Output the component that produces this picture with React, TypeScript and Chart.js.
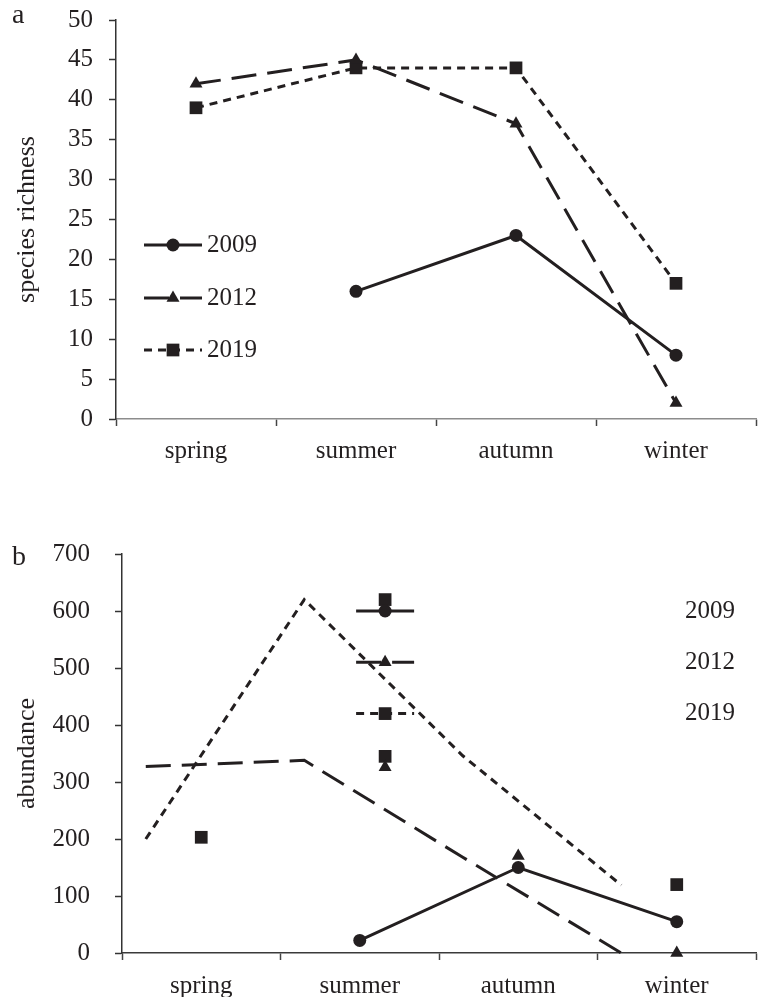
import React, { useEffect, useRef } from 'react';
import { Chart, registerables } from 'chart.js';

Chart.register(...registerables);

const FAMILY = "'Liberation Serif', 'Times New Roman', serif";
const INK = '#231f20';

// ---------- data ----------
const seasons = ['spring', 'summer', 'autumn', 'winter'];
const years = ['2009', '2012', '2019'];

// panel a: species richness
const richness2009 = [null, 16, 23, 8];
const richness2012 = [42, 45, 37, 2];
const richness2019 = [39, 44, 44, 17];
const richnessMin = 0;
const richnessMax = 50;
const richnessStep = 5;

// panel b: abundance
const abundance2009 = [null, 22, 150, 55];
const abundance2012Markers = [null, null, 170, 0];
const abundance2019Markers = [203, null, null, 120];
const abundance2012Line = [327, 338, 168, 0];
const abundance2019Line = [200, 620, 346, 119];
const abundanceSummerTriangles = [326];
const abundanceSummerSquares = [620, 345];
const abundanceLegendValues = [600, 510, 420];
const abundanceMin = 0;
const abundanceMax = 700;
const abundanceStep = 100;

// position shifts (in category units) seen in panel b
const LINE_SHIFT = -0.35;
const MARKER_SHIFT = 0.16;
const SUMMER = 1;

// ---------- styles ----------
const DASH_2012 = [25, 11];
const DASH_2019 = [8, 6];
const RADII: Record<string, number> = { circle: 6.5, triangle: 7.5, rect: 9 };
const legendStyles = [
  { style: 'circle', dash: [] as number[] },
  { style: 'triangle', dash: DASH_2012 },
  { style: 'rect', dash: DASH_2019 },
];

const toPoints = (values: (number | null)[], shift = 0) =>
  values.map((v, i) => ({ x: i + shift, y: v }));

function series(data: any[], style: string | null, dash: number[], showLine: boolean) {
  return {
    data,
    borderColor: INK,
    backgroundColor: INK,
    borderWidth: 3,
    borderDash: dash,
    borderCapStyle: 'butt',
    showLine,
    tension: 0,
    pointStyle: style || 'circle',
    pointRadius: style ? RADII[style] : 0,
    pointHoverRadius: style ? RADII[style] : 0,
    pointBorderWidth: 0,
    pointBackgroundColor: INK,
    clip: false,
    spanGaps: false,
  };
}

function drawMarker(ctx: CanvasRenderingContext2D, style: string, x: number, y: number) {
  const r = RADII[style];
  ctx.beginPath();
  if (style === 'circle') {
    ctx.arc(x, y, r, 0, Math.PI * 2);
  } else if (style === 'triangle') {
    ctx.moveTo(x, y - r);
    ctx.lineTo(x + r * Math.sin((2 * Math.PI) / 3), y + r * 0.5);
    ctx.lineTo(x - r * Math.sin((2 * Math.PI) / 3), y + r * 0.5);
    ctx.closePath();
  } else {
    const s = r * Math.SQRT1_2;
    ctx.rect(x - s, y - s, 2 * s, 2 * s);
  }
  ctx.fill();
}

type Row = { y: number; x0: number; x1: number; mx: number; tx: number };

function annotationPlugin(letter: string, letterY: number, rows: (chart: any) => Row[]) {
  return {
    id: 'annotations',
    afterDatasetsDraw(chart: any) {
      const ctx: CanvasRenderingContext2D = chart.ctx;
      ctx.save();
      ctx.fillStyle = INK;
      ctx.strokeStyle = INK;
      ctx.font = `28px ${FAMILY}`;
      ctx.textAlign = 'left';
      ctx.textBaseline = 'alphabetic';
      ctx.fillText(letter, 12, letterY);

      rows(chart).forEach((row, i) => {
        const st = legendStyles[i];
        ctx.lineWidth = 3;
        ctx.lineCap = 'butt';
        ctx.setLineDash(st.dash);
        ctx.beginPath();
        ctx.moveTo(row.x0, row.y);
        ctx.lineTo(row.x1, row.y);
        ctx.stroke();
        ctx.setLineDash([]);
        drawMarker(ctx, st.style, row.mx, row.y);
        ctx.font = `25px ${FAMILY}`;
        ctx.textBaseline = 'middle';
        ctx.fillText(years[i], row.tx, row.y);
      });
      ctx.restore();
    },
  };
}

function xScale(height: number, borderColor: string, padding: number) {
  return {
    type: 'linear',
    min: -0.5,
    max: 3.5,
    afterFit: (s: any) => {
      s.height = height;
      s.paddingLeft = 0;
      s.paddingRight = 0;
    },
    ticks: {
      stepSize: 0.5,
      autoSkip: false,
      maxRotation: 0,
      minRotation: 0,
      padding,
      color: INK,
      font: { family: FAMILY, size: 25 },
      callback: (v: number) =>
        Number.isInteger(v) && v >= 0 && v < seasons.length ? seasons[v] : '',
    },
    grid: {
      drawOnChartArea: false,
      drawTicks: true,
      tickLength: 7,
      tickWidth: 1.5,
      tickColor: (c: any) =>
        c.tick && Number.isInteger(c.tick.value) ? 'rgba(0,0,0,0)' : '#444',
    },
    border: { display: true, color: borderColor, width: 1.5 },
  };
}

function yScale(width: number, min: number, max: number, step: number, title: string, padding: number) {
  return {
    type: 'linear',
    min,
    max,
    afterFit: (s: any) => {
      s.width = width;
      s.paddingTop = 0;
      s.paddingBottom = 0;
    },
    ticks: {
      stepSize: step,
      padding,
      color: INK,
      font: { family: FAMILY, size: 25 },
    },
    grid: {
      drawOnChartArea: false,
      drawTicks: true,
      tickLength: 7,
      tickWidth: 1.5,
      tickColor: '#333',
    },
    border: { display: true, color: '#333', width: 1.5 },
    title: {
      display: true,
      text: title,
      color: INK,
      font: { family: FAMILY, size: 26 },
      padding: { top: 12, bottom: 0 },
    },
  };
}

function configA() {
  return {
    type: 'line',
    data: {
      datasets: [
        series(toPoints(richness2009), 'circle', [], true),
        series(toPoints(richness2012), 'triangle', DASH_2012, true),
        series(toPoints(richness2019), 'rect', DASH_2019, true),
      ],
    },
    options: {
      responsive: false,
      animation: false,
      events: [],
      layout: { padding: { top: 20, right: 3, left: 0, bottom: 0 } },
      scales: {
        x: xScale(61, '#8c8c8c', 10),
        y: yScale(116, richnessMin, richnessMax, richnessStep, 'species richness', 16),
      },
      plugins: { legend: { display: false }, tooltip: { enabled: false } },
    },
    plugins: [
      annotationPlugin('a', 23, () =>
        [245, 298, 350].map((y) => ({ y, x0: 144, x1: 202, mx: 173, tx: 207 }))
      ),
    ],
  };
}

function configB() {
  const col = SUMMER + MARKER_SHIFT;
  return {
    type: 'line',
    data: {
      datasets: [
        series(toPoints(abundance2009), 'circle', [], true),
        series(toPoints(abundance2012Markers), 'triangle', [], false),
        series(toPoints(abundance2019Markers), 'rect', [], false),
        series(abundanceSummerTriangles.map((y) => ({ x: col, y })), 'triangle', [], false),
        series(abundanceSummerSquares.map((y) => ({ x: col, y })), 'rect', [], false),
        series(toPoints(abundance2012Line, LINE_SHIFT), null, DASH_2012, true),
        series(toPoints(abundance2019Line, LINE_SHIFT), null, DASH_2019, true),
      ],
    },
    options: {
      responsive: false,
      animation: false,
      events: [],
      layout: { padding: { top: 74, right: 3, left: 0, bottom: 0 } },
      scales: {
        x: xScale(44, '#3a3a3a', 11),
        y: yScale(122, abundanceMin, abundanceMax, abundanceStep, 'abundance', 25),
      },
      plugins: { legend: { display: false }, tooltip: { enabled: false } },
    },
    plugins: [
      annotationPlugin('b', 85, (chart: any) => {
        const mx = chart.scales.x.getPixelForValue(col);
        return abundanceLegendValues.map((v) => ({
          y: chart.scales.y.getPixelForValue(v),
          x0: mx - 29,
          x1: mx + 29,
          mx,
          tx: 685,
        }));
      }),
    ],
  };
}

function ChartCanvas({ top, width, height, make }: { top: number; width: number; height: number; make: () => any }) {
  const ref = useRef<HTMLCanvasElement | null>(null);
  useEffect(() => {
    if (!ref.current) return;
    const chart = new Chart(ref.current, make());
    return () => chart.destroy();
  }, []);
  return (
    <canvas
      ref={ref}
      width={width}
      height={height}
      style={{ position: 'absolute', left: 0, top, width, height, display: 'block' }}
    />
  );
}

export default function App() {
  return (
    <div
      style={{
        position: 'absolute',
        left: 0,
        top: 0,
        width: 765,
        height: 997,
        overflow: 'hidden',
        background: '#fff',
      }}
    >
      <ChartCanvas top={0} width={765} height={480} make={configA} />
      <ChartCanvas top={480} width={765} height={517} make={configB} />
    </div>
  );
}
